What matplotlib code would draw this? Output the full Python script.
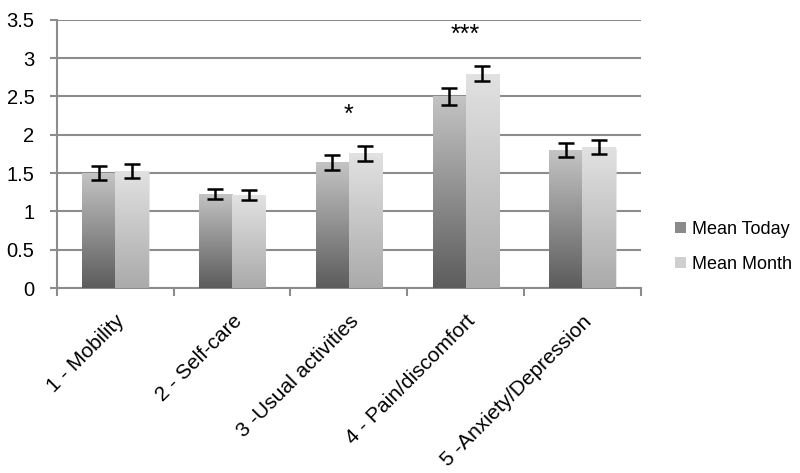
import numpy as np
import matplotlib
matplotlib.use("Agg")
import matplotlib.pyplot as plt
from matplotlib.colors import LinearSegmentedColormap
from matplotlib.patches import Rectangle

categories = ["1 - Mobility", "2 - Self-care", "3 -Usual activities",
              "4 - Pain/discomfort", "5 -Anxiety/Depression"]
mean_today = [1.50, 1.23, 1.64, 2.50, 1.80]
err_today = [0.09, 0.065, 0.10, 0.11, 0.09]
mean_month = [1.53, 1.21, 1.76, 2.80, 1.84]
err_month = [0.09, 0.065, 0.10, 0.10, 0.09]
stars = ["", "", "*", "***", ""]
star_y = [0, 0, 2.26, 3.30, 0]
yticks = [0, 0.5, 1, 1.5, 2, 2.5, 3, 3.5]

plt.rcParams['font.family'] = ['Liberation Sans', 'DejaVu Sans']
fig = plt.figure(figsize=(8, 4.73), dpi=100)
ax = fig.add_axes([0.071, 0.391, 0.73, 0.567])

x = np.arange(len(categories)) + 0.5
w = 0.283
cmap_today = LinearSegmentedColormap.from_list("t", ["#5c5c5c", "#c4c4c4"])
cmap_month = LinearSegmentedColormap.from_list("m", ["#aaaaaa", "#e2e2e2"])
grad = np.linspace(0, 1, 256).reshape(-1, 1)

def gbar(xs, vals, cmap, errs):
    bars = ax.bar(xs, vals, width=w, color='none', edgecolor='none', zorder=3)
    for b in bars:
        x0, y0 = b.get_x(), b.get_y()
        h = b.get_height()
        ax.bar(x0 + w / 2 + 0.012, h, width=w, bottom=-0.02, color='#d8d8d8',
               alpha=0.6, zorder=2.5, linewidth=0)
        im = ax.imshow(grad, extent=[x0, x0 + w, y0, y0 + h], origin='lower',
                       aspect='auto', cmap=cmap, zorder=3)
        im.set_clip_path(b)
    ax.errorbar(xs, vals, yerr=errs, fmt='none', ecolor='black', elinewidth=1.8,
                capsize=6, capthick=1.8, zorder=4)

gbar(x - w / 2, mean_today, cmap_today, err_today)
gbar(x + w / 2, mean_month, cmap_month, err_month)

for xi, s, sy in zip(x, stars, star_y):
    if s:
        ax.text(xi, sy, s, ha='center', va='center', fontsize=18, zorder=5)

ax.set_xlim(0, 5)
ax.set_ylim(0, 3.5)
ax.set_yticks(yticks)
ax.set_yticklabels([f"{t:g}" for t in yticks], fontsize=14.5)
ax.yaxis.grid(True, color='#8c8c8c', linewidth=1.5, zorder=0)
ax.set_axisbelow(True)
ax.set_xticks(np.arange(0, 6))
ax.set_xticklabels([])
ax.set_xticks(x, minor=True)
ax.set_xticklabels(categories, minor=True, rotation=45, ha='right',
                   rotation_mode='anchor', fontsize=15)
ax.tick_params(axis='x', which='minor', length=0, pad=17)
ax.tick_params(axis='x', which='major', length=6, color='#8c8c8c', width=1.5)
ax.tick_params(axis='y', length=5, color='#8c8c8c', width=1.5, pad=11)
for s in ['top', 'right']:
    ax.spines[s].set_visible(False)
for s in ['left', 'bottom']:
    ax.spines[s].set_color('#8c8c8c')
    ax.spines[s].set_linewidth(1.5)

handles = [Rectangle((0, 0), 1, 1, facecolor='#8a8a8a'),
           Rectangle((0, 0), 1, 1, facecolor='#cfcfcf')]
leg = fig.legend(handles, ["Mean Today", "Mean Month"], loc='center left',
                 bbox_to_anchor=(0.824, 0.478), frameon=False, fontsize=13,
                 handlelength=0.6, handleheight=0.6, handletextpad=0.3,
                 labelspacing=1.0)

fig.savefig("out.png", dpi=100)
